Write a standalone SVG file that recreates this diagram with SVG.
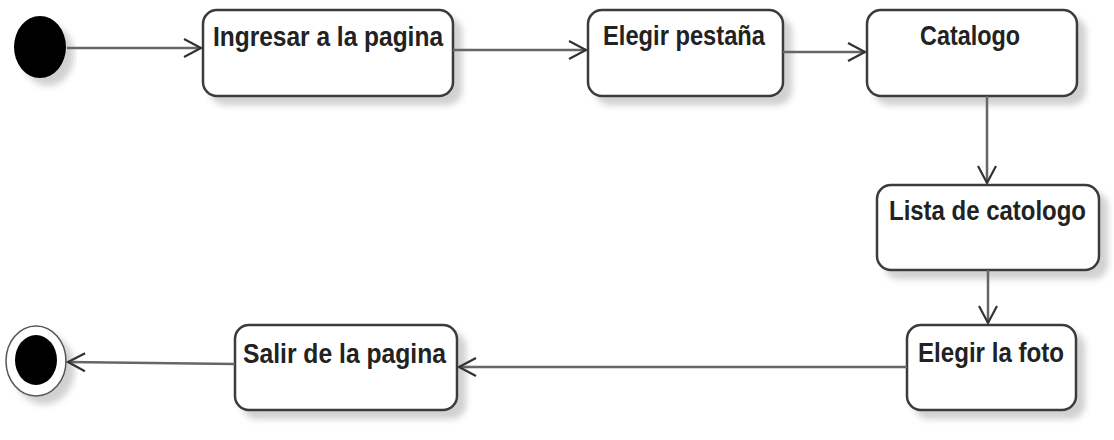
<svg xmlns="http://www.w3.org/2000/svg" width="1114" height="440" viewBox="0 0 1114 440">
  <defs>
    <filter id="sh" x="-20%" y="-20%" width="140%" height="150%">
      <feDropShadow dx="8" dy="8" stdDeviation="3" flood-color="#000" flood-opacity="0.18"/>
    </filter>
    <marker id="arr" markerUnits="userSpaceOnUse" markerWidth="24" markerHeight="24" viewBox="-20 -12 24 24" refX="0" refY="0" orient="auto">
      <path d="M-17,-9 L0,0 L-17,9" fill="none" stroke="#333" stroke-width="2.2"/>
    </marker>
    <style>
      .box { fill: #fff; stroke: #3a3a3a; stroke-width: 2.5; filter: url(#sh); }
      .lbl { font-family: "Liberation Sans", Arial, sans-serif; font-weight: bold; font-size: 23px; fill: #222; }
      .conn { fill: none; stroke: #666; stroke-width: 2.5; marker-end: url(#arr); }
    </style>
  </defs>
  <rect width="1114" height="440" fill="#fff"/>

  <g id="start">
    <ellipse cx="40" cy="47" rx="26" ry="31" fill="#000" filter="url(#sh)"/>
  </g>

  <g id="ingresar">
    <rect class="box" x="203" y="10" width="250" height="86" rx="14"/>
    <text class="lbl" transform="translate(213,46) scale(1,1.2)" textLength="230" lengthAdjust="spacingAndGlyphs">Ingresar a la pagina</text>
  </g>

  <g id="elegir-pestana">
    <rect class="box" x="588" y="10" width="195" height="86" rx="14"/>
    <text class="lbl" transform="translate(603,45) scale(1,1.2)" textLength="162" lengthAdjust="spacingAndGlyphs">Elegir pestaña</text>
  </g>

  <g id="catalogo">
    <rect class="box" x="867" y="10" width="210" height="86" rx="14"/>
    <text class="lbl" transform="translate(920,45) scale(1,1.2)" textLength="100" lengthAdjust="spacingAndGlyphs">Catalogo</text>
  </g>

  <g id="lista">
    <rect class="box" x="877" y="185" width="222" height="85" rx="14"/>
    <text class="lbl" transform="translate(889,220) scale(1,1.2)" textLength="197" lengthAdjust="spacingAndGlyphs">Lista de catologo</text>
  </g>

  <g id="elegir-foto">
    <rect class="box" x="907" y="325" width="169" height="85" rx="14"/>
    <text class="lbl" transform="translate(918,362) scale(1,1.2)" textLength="146" lengthAdjust="spacingAndGlyphs">Elegir la foto</text>
  </g>

  <g id="salir">
    <rect class="box" x="235" y="325" width="222" height="85" rx="14"/>
    <text class="lbl" transform="translate(243,363) scale(1,1.2)" textLength="203" lengthAdjust="spacingAndGlyphs">Salir de la pagina</text>
  </g>

  <g id="end">
    <ellipse cx="36" cy="361" rx="30" ry="35" fill="#fff" stroke="#555" stroke-width="1.5" filter="url(#sh)"/>
    <ellipse cx="36" cy="360" rx="21" ry="25" fill="#000"/>
  </g>

  <g id="connectors">
    <path class="conn" d="M67,48 L201,48"/>
    <path class="conn" d="M453,50 L586,50"/>
    <path class="conn" d="M783,52 L865,52"/>
    <path class="conn" d="M987,96 L987,183"/>
    <path class="conn" d="M988,270 L988,323"/>
    <path class="conn" d="M907,367 L459,367"/>
    <path class="conn" d="M235,364 L68,362"/>
  </g>
</svg>
